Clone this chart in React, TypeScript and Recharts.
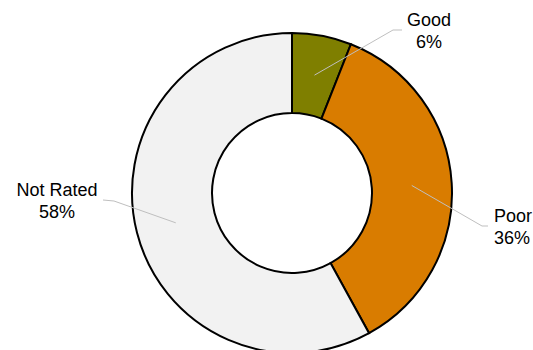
import * as React from 'react'
import { PieChart, Pie, Cell } from 'recharts'

const categories = ['Good', 'Poor', 'Not Rated']
const shares = [6, 36, 58]
const colors = ['#7F7F00', '#D97C00', '#F2F2F2']

// where each label sits, relative to the pie centre
const labelLayout = [
  { elbow: [101, -163], end: [110, -163], textX: 137, textY: -167, anchor: 'middle' },
  { elbow: [190, 33], end: [196, 33], textX: 202, textY: 29, anchor: 'start' },
  { elbow: [-178, 8], end: [-189, 7], textX: -235, textY: 3, anchor: 'middle' },
]

const data = categories.map((name, i) => ({ name, value: shares[i] }))

const RAD = Math.PI / 180

function renderLabel(props: any) {
  const { cx, cy, midAngle, innerRadius, outerRadius, index, name, value } = props
  const lay = labelLayout[index]
  const r = (innerRadius + outerRadius) / 2
  const sx = cx + Math.cos(-midAngle * RAD) * r
  const sy = cy + Math.sin(-midAngle * RAD) * r
  const pts = `${sx},${sy} ${cx + lay.elbow[0]},${cy + lay.elbow[1]} ${cx + lay.end[0]},${cy + lay.end[1]}`
  return (
    <g key={`lbl-${index}`}>
      <polyline points={pts} fill="none" stroke="#BFBFBF" strokeWidth={1} />
      <text x={cx + lay.textX} y={cy + lay.textY} textAnchor={lay.anchor} fill="#000" fontSize={18} fontFamily="'Liberation Sans', Arial, sans-serif">
        <tspan x={cx + lay.textX}>{name}</tspan>
        <tspan x={cx + lay.textX} dy={22}>{`${value}%`}</tspan>
      </text>
    </g>
  )
}

export default function App() {
  return (
    <div style={{ position: 'fixed', left: 0, top: 0, width: 533, height: 350, background: '#fff' }}>
      <PieChart width={533} height={350} margin={{ top: 0, right: 0, bottom: 0, left: 0 }}>
        <Pie
          data={data}
          dataKey="value"
          nameKey="name"
          cx={292}
          cy={193}
          innerRadius={80}
          outerRadius={160}
          startAngle={90}
          endAngle={-270}
          stroke="#000"
          strokeWidth={2}
          label={renderLabel}
          labelLine={false}
          isAnimationActive={false}
        >
          {data.map((d, i) => (
            <Cell key={d.name} fill={colors[i]} />
          ))}
        </Pie>
      </PieChart>
    </div>
  )
}
